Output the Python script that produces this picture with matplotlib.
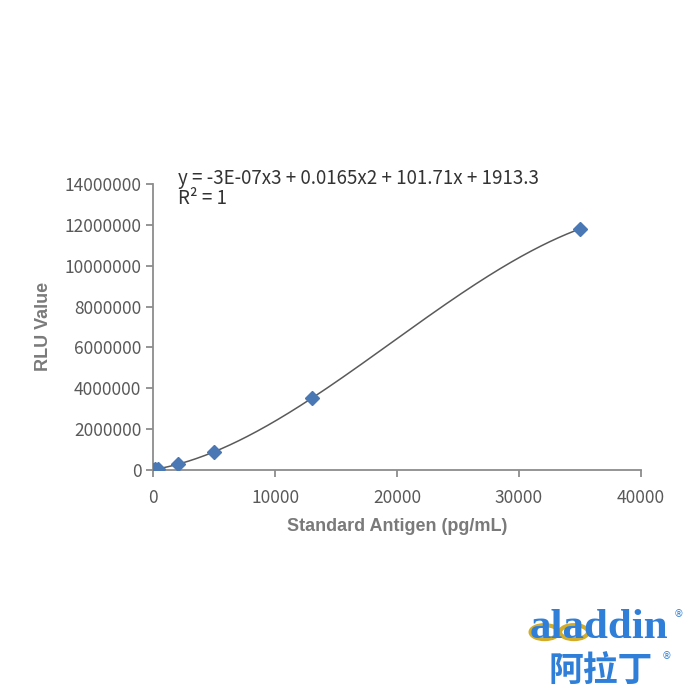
import matplotlib.pyplot as plt
import numpy as np
from matplotlib.patches import Ellipse

# standard curve points
conc = [0, 100, 400, 2000, 5000, 13000, 35000]
rlu = [2000, 12000, 45000, 280000, 870000, 3500000, 11800000]

x_ticks = [0, 10000, 20000, 30000, 40000]
y_ticks = [0, 2000000, 4000000, 6000000, 8000000, 10000000, 12000000, 14000000]

equation = "y = -3E-07x3 + 0.0165x2 + 101.71x + 1913.3"
r2_text = "R² = 1"

gray = '#595959'
spine = '#8c8c8c'
blue = '#4a78b4'

fig = plt.figure(figsize=(7, 7), dpi=100)
ax = fig.add_axes([0.219, 0.329, 0.696, 0.408])

# cubic trendline, like the spreadsheet one
coef = np.polyfit(conc, rlu, 3)
xs = np.linspace(0, 35000, 300)
ax.plot(xs, np.polyval(coef, xs), color='#5a5a5a', lw=1.1, zorder=2)
ax.plot(conc, rlu, ls='none', marker='D', ms=7.5, color=blue, zorder=3)

ax.set_xlim(0, 40000)
ax.set_ylim(0, 14000000)
ax.set_xticks(x_ticks)
ax.set_yticks(y_ticks)
ax.set_xticklabels([str(v) for v in x_ticks])
ax.set_yticklabels([str(v) for v in y_ticks])

for s in ['top', 'right']:
    ax.spines[s].set_visible(False)
for s in ['left', 'bottom']:
    ax.spines[s].set_color(spine)
    ax.spines[s].set_linewidth(1.3)
ax.tick_params(colors=spine, length=5, width=1.3, labelcolor=gray)
ax.tick_params(axis='x', pad=9)
for lab in ax.get_xticklabels() + ax.get_yticklabels():
    lab.set_family(['Noto Sans CJK SC', 'DejaVu Sans'])
    lab.set_fontsize(12.5)

ax.set_xlabel('Standard Antigen (pg/mL)', fontsize=13, fontweight='bold',
              color='#7a7a7a', family='Liberation Sans', labelpad=8)
ax.set_ylabel('RLU Value', fontsize=13, fontweight='bold',
              color='#7a7a7a', family='Liberation Sans', labelpad=9)

ax.text(0.051, 0.985, equation + '\n' + r2_text, transform=ax.transAxes,
        fontsize=13.5, color='#333333', family=['Noto Sans CJK SC', 'DejaVu Sans'],
        va='center', ha='left', linespacing=0.9)

# aladdin logo
for cx in [0.778, 0.82]:
    fig.patches.append(Ellipse((cx, 0.097), 0.04, 0.02, transform=fig.transFigure,
                               fill=False, ec='#d2ad2c', lw=3, zorder=0))
fig.text(0.757, 0.088, 'aladdin', fontsize=31, color='#2f7fd8',
         family='Liberation Serif', fontweight='bold', ha='left', va='baseline')
fig.text(0.962, 0.118, '®', fontsize=7, color='#2f7fd8')
fig.text(0.783, 0.026, '阿拉丁', fontsize=25, color='#2f7fd8',
         family='Noto Sans CJK SC', fontweight='bold', ha='left', va='baseline')
fig.text(0.945, 0.058, '®', fontsize=7, color='#2f7fd8')

fig.savefig('out.png', dpi=100, facecolor='white')
